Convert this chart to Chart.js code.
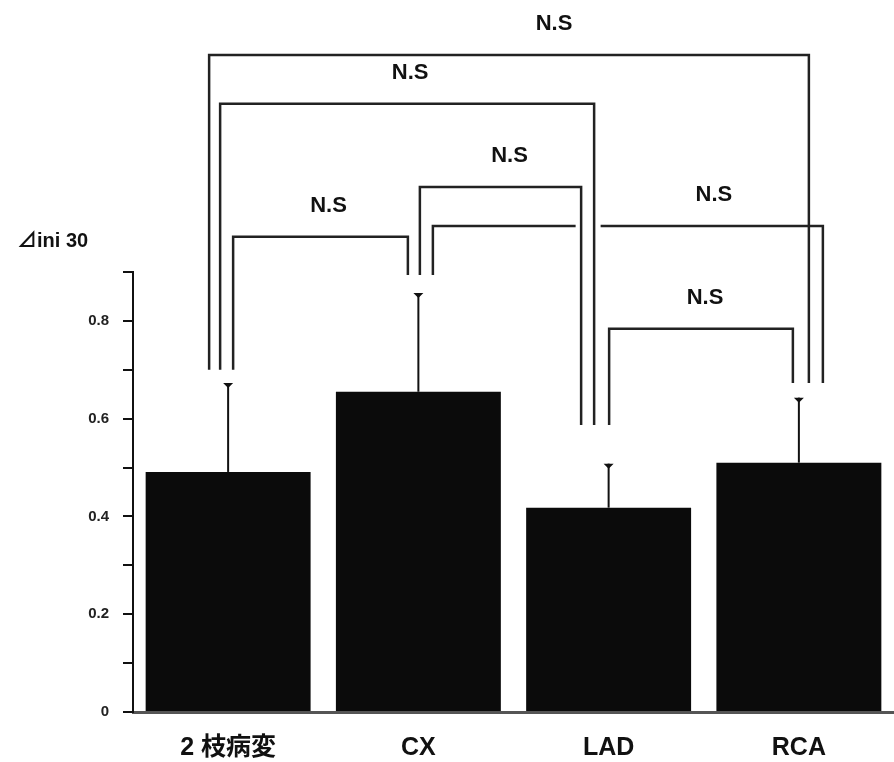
<!DOCTYPE html>
<html>
<head>
<meta charset="utf-8">
<script src="https://cdn.jsdelivr.net/npm/chart.js@4"></script>
<style>
  body { margin: 0; background: #fff; }
  #wrap { width: 894px; height: 762px; }
</style>
</head>
<body>
<div id="wrap"><canvas id="ratioChart" width="894" height="762"></canvas></div>
<script>
// 1. DATA
const categories = ['2 枝病変', 'CX', 'LAD', 'RCA'];
const meanValues = [0.491, 0.655, 0.418, 0.510];
const sdValues = [0.182, 0.202, 0.090, 0.133];
const yTickLabels = ['0', '', '0.2', '', '0.4', '', '0.6', '', '0.8', ''];
const axisTitle = '⊿ini 30';

// significance brackets: pair of categories, bracket height, leg foot height per category
const bracketFrom = [0, 0, 1, 0, 1, 2];
const bracketTo = [3, 2, 2, 1, 3, 3];
const bracketLevel = [1.344, 1.244, 1.074, 0.972, 0.994, 0.784];
const bracketLabels = ['N.S', 'N.S', 'N.S', 'N.S', 'N.S', 'N.S'];
const footLevel = [0.700, 0.894, 0.587, 0.673];

// 2. DRAWING STYLE (pixel offsets of bracket legs from bar centre, label shift)
const legOffsets = [[-19, 10], [-8, -14.5], [1.5, -27.5], [5, -10.5], [14.5, 24], [0.5, -6]];
const labelShift = [45, 3, 9, 8, 86, 4];
// horizontal break (relative to LAD centre) where the CX-RCA bracket crosses the LAD legs
const bracketBreak = [null, null, null, null, [-33, -8], null];
const FONT = "'Liberation Sans', Arial, 'Noto Sans CJK JP', sans-serif";
const INK = '#111';

// 3. ERROR BARS (upper only, small triangle cap)
const errorBarPlugin = {
    id: 'errorBars',
    afterDatasetsDraw(chart) {
        const ctx = chart.ctx;
        const y = chart.scales.y;
        const meta = chart.getDatasetMeta(0);
        ctx.save();
        ctx.strokeStyle = INK;
        ctx.fillStyle = INK;
        ctx.lineWidth = 2;
        meta.data.forEach((bar, i) => {
            const top = y.getPixelForValue(meanValues[i] + sdValues[i]);
            ctx.beginPath();
            ctx.moveTo(bar.x, bar.y);
            ctx.lineTo(bar.x, top);
            ctx.stroke();
            ctx.beginPath();
            ctx.moveTo(bar.x - 5, top);
            ctx.lineTo(bar.x + 5, top);
            ctx.lineTo(bar.x, top + 5);
            ctx.closePath();
            ctx.fill();
        });
        ctx.restore();
    }
};

// 4. BRACKETS + AXIS TITLE
const bracketPlugin = {
    id: 'brackets',
    afterDraw(chart) {
        const ctx = chart.ctx;
        const x = chart.scales.x;
        const y = chart.scales.y;
        ctx.save();
        ctx.strokeStyle = '#222';
        ctx.lineWidth = 2.5;
        bracketFrom.forEach((from, i) => {
            const to = bracketTo[i];
            const x1 = x.getPixelForValue(from) + legOffsets[i][0];
            const x2 = x.getPixelForValue(to) + legOffsets[i][1];
            const yl = y.getPixelForValue(bracketLevel[i]);
            ctx.beginPath();
            ctx.moveTo(x1, y.getPixelForValue(footLevel[from]));
            ctx.lineTo(x1, yl);
            if (bracketBreak[i]) {
                const c = x.getPixelForValue(2);
                ctx.lineTo(c + bracketBreak[i][0], yl);
                ctx.moveTo(c + bracketBreak[i][1], yl);
            }
            ctx.lineTo(x2, yl);
            ctx.lineTo(x2, y.getPixelForValue(footLevel[to]));
            ctx.stroke();
        });

        // N.S labels
        ctx.fillStyle = INK;
        ctx.font = 'bold 22px ' + FONT;
        ctx.textAlign = 'center';
        ctx.textBaseline = 'middle';
        bracketFrom.forEach((from, i) => {
            const x1 = x.getPixelForValue(from) + legOffsets[i][0];
            const x2 = x.getPixelForValue(bracketTo[i]) + legOffsets[i][1];
            const yl = y.getPixelForValue(bracketLevel[i]);
            ctx.fillText(bracketLabels[i], (x1 + x2) / 2 + labelShift[i], yl - 31);
        });

        // y axis title, top left
        ctx.font = 'bold 20px ' + FONT;
        ctx.textAlign = 'left';
        ctx.fillText(axisTitle, 17, 241);
        ctx.restore();
    }
};

// 5. CHART
new Chart(document.getElementById('ratioChart').getContext('2d'), {
    type: 'bar',
    data: {
        labels: categories,
        datasets: [{
            data: meanValues,
            backgroundColor: '#0b0b0b',
            borderWidth: 0,
            barPercentage: 0.867,
            categoryPercentage: 1
        }]
    },
    options: {
        responsive: false,
        animation: false,
        layout: { padding: { top: 272, left: 0, right: 0, bottom: 0 } },
        plugins: { legend: { display: false }, tooltip: { enabled: false } },
        scales: {
            x: {
                offset: true,
                grid: { display: false, drawTicks: false },
                border: { display: true, color: '#555', width: 3 },
                ticks: {
                    color: INK,
                    padding: 21,
                    font: { family: FONT, size: 25, weight: 'bold' }
                },
                afterFit: (s) => { s.height = 50; }
            },
            y: {
                min: 0,
                max: 0.9,
                grid: { drawOnChartArea: false, drawTicks: true, tickLength: 10, color: INK, lineWidth: 2 },
                border: { display: true, color: INK, width: 2 },
                ticks: {
                    stepSize: 0.1,
                    color: '#222',
                    padding: 14,
                    font: { family: FONT, size: 15, weight: 'bold' },
                    callback: (v) => yTickLabels[Math.round(v * 10)]
                },
                afterFit: (s) => { s.width = 133; }
            }
        }
    },
    plugins: [errorBarPlugin, bracketPlugin]
});
</script>
</body>
</html>
